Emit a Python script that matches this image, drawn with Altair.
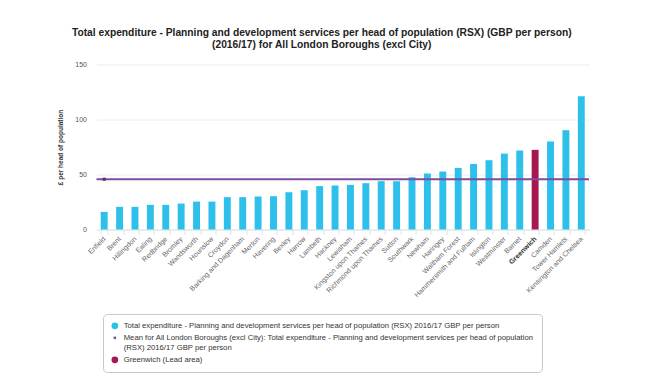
import altair as alt
import pandas as pd

boroughs = [
    "Enfield", "Brent", "Hillingdon", "Ealing", "Redbridge", "Bromley", "Wandsworth",
    "Hounslow", "Croydon", "Barking and Dagenham", "Merton", "Havering", "Bexley",
    "Harrow", "Lambeth", "Hackney", "Lewisham", "Kingston upon Thames",
    "Richmond upon Thames", "Sutton", "Southwark", "Newham", "Haringey",
    "Waltham Forest", "Hammersmith and Fulham", "Islington", "Westminster", "Barnet",
    "Greenwich", "Camden", "Tower Hamlets", "Kensington and Chelsea",
]
values = [
    16.0, 20.6, 20.6, 22.4, 22.4, 23.6, 25.4, 25.4, 29.4, 29.4, 30.0, 30.3, 33.9,
    35.7, 39.4, 40.0, 40.6, 42.1, 43.9, 43.9, 47.5, 50.9, 52.7, 56.0, 59.6, 63.0,
    69.0, 71.8, 72.4, 80.0, 90.3, 121.2,
]
mean_value = 45.7
lead_area = "Greenwich"

series_labels = [
    "Total expenditure - Planning and development services per head of population (RSX) 2016/17 GBP per person",
    "Mean for All London Boroughs (excl City): Total expenditure - Planning and development services per head of population|(RSX) 2016/17 GBP per person",
    "Greenwich (Lead area)",
]
series_colors = ["#2DC0EA", "#7E4B9E", "#A6174F"]
series_shapes = ["circle", "square", "circle"]
series_sizes = [45, 6, 45]

title_lines = [
    "Total expenditure - Planning and development services per head of population (RSX) (GBP per person)",
    "(2016/17) for All London Boroughs (excl City)",
]
y_title = "£ per head of population"
y_ticks = [0, 25, 50, 75, 100, 125, 150]

FONT = "Liberation Sans"

df = pd.DataFrame({
    "borough": boroughs,
    "value": values,
    "series": [series_labels[2] if b == lead_area else series_labels[0] for b in boroughs],
})
mean_df = pd.DataFrame({"borough": [boroughs[0]], "mean": [mean_value]})
legend_df = pd.DataFrame({
    "borough": [boroughs[0]] * 3,
    "mean": [mean_value] * 3,
    "series": series_labels,
})

x_enc = alt.X(
    "borough:N", sort=boroughs, title=None,
    scale=alt.Scale(paddingInner=0.55, paddingOuter=0.275),
    axis=alt.Axis(
        labelAngle=-45, labelAlign="right", labelBaseline="middle",
        labelFontSize=7, labelFont=FONT, labelPadding=3,
        labelColor=alt.condition("datum.value == 'Greenwich'", alt.value("#333333"), alt.value("#666666")),
        labelFontWeight=alt.condition("datum.value == 'Greenwich'", alt.value("bold"), alt.value("normal")),
        tickBand="extent", tickSize=5, tickColor="#dde3ea", domainColor="#dde3ea",
        grid=False, labelOverlap=False, labelLimit=200,
    ),
)

color_scale = alt.Scale(domain=series_labels, range=series_colors)
legend_spec = alt.Legend(
    title=None, orient="none", legendX=6.5, legendY=249.5,
    direction="vertical", labelFont=FONT, labelFontSize=7.7,
    labelColor="#333333", labelLimit=800, labelOffset=5,
    labelExpr="split(datum.label, '|')",
    padding=8, rowPadding=3, strokeColor="#c8c8c8", cornerRadius=4,
    fillColor="white", symbolStrokeWidth=0, symbolOpacity=1,
)

bars = alt.Chart(df).mark_bar().encode(
    x=x_enc,
    y=alt.Y(
        "value:Q",
        scale=alt.Scale(domain=[0, 150], nice=False),
        axis=alt.Axis(
            values=y_ticks, title=y_title, titleFont=FONT, titleFontSize=6.5,
            titleFontWeight="bold", titleColor="#333333", titleAngle=-90,
            titleX=-36, titleY=82.5, titleAlign="center", titleBaseline="middle",
            labelFont=FONT, labelFontSize=7, labelColor="#555555", labelPadding=10,
            ticks=False, domain=False, gridColor="#ececec", gridWidth=1,
        ),
    ),
    color=alt.Color("series:N", scale=color_scale, legend=legend_spec),
)

rule = alt.Chart(mean_df).mark_rule(color="#7E4B9E", strokeWidth=2).encode(
    y=alt.Y("mean:Q"),
)
pt = alt.Chart(mean_df).mark_point(shape="square", filled=True, size=10, color="#5E2E80", opacity=1).encode(
    x=alt.X("borough:N", sort=boroughs),
    y=alt.Y("mean:Q"),
)

legend_layer = alt.Chart(legend_df).mark_point(filled=True, opacity=0).encode(
    x=alt.X("borough:N", sort=boroughs),
    y=alt.Y("mean:Q"),
    color=alt.Color("series:N", scale=color_scale, legend=legend_spec),
    shape=alt.Shape("series:N", scale=alt.Scale(domain=series_labels, range=series_shapes),
                    legend=legend_spec),
    size=alt.Size("series:N", scale=alt.Scale(type="ordinal", domain=series_labels, range=series_sizes),
                  legend=legend_spec),
)

chart = alt.layer(bars, rule, pt, legend_layer).properties(
    width=492.5,
    height=165,
    background="white",
    autosize=alt.AutoSizeParams(type="none"),
    padding={"left": 96.5, "top": 64.5, "right": 70, "bottom": 147.5},
    title=alt.TitleParams(
        text=title_lines, font=FONT, fontSize=10.25, fontWeight="bold", color="#222222",
        anchor="middle", dx=-21, offset=10, lineHeight=12,
    ),
).configure_view(stroke=None)

chart.save("out.html", embed_options={"renderer": "svg", "actions": False})
